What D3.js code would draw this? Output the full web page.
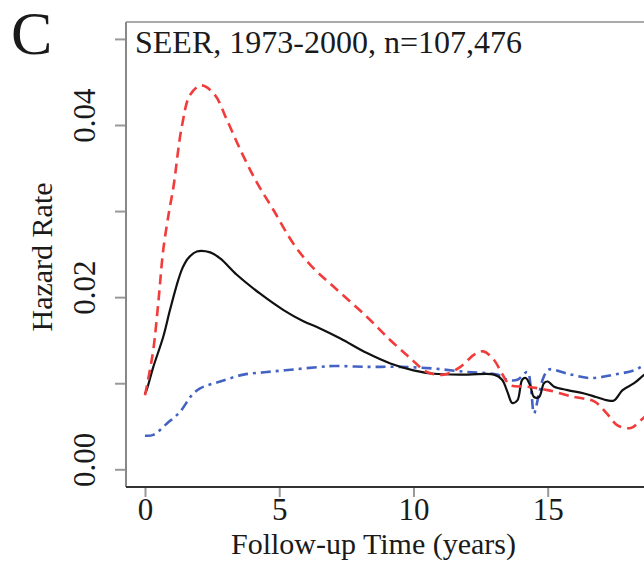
<!DOCTYPE html>
<html><head><meta charset="utf-8">
<script src="https://cdn.jsdelivr.net/npm/d3@7/dist/d3.min.js"></script>
<style>
html,body{margin:0;padding:0;background:#fff;}
svg text{font-family:"Liberation Serif","Times New Roman",serif;fill:#1a1a1a;}
</style></head>
<body>
<svg id="chart" width="644" height="567"></svg>
<script>
const panelLabel = "C";
const title = "SEER, 1973-2000, n=107,476";
const xTitle = "Follow-up Time (years)";
const yTitle = "Hazard Rate";
const xTicks = [0, 5, 10, 15];
const yTicks = [0, 0.01, 0.02, 0.03, 0.04, 0.05];
const yLabelTicks = [0, 0.02, 0.04];

const tRed = [0, 0.15, 0.31, 0.5, 0.68, 0.9, 1.06, 1.37, 1.68, 2.1, 2.6, 3.05, 3.6, 4.17, 4.79, 5.53, 6.2, 7.03, 8.27, 9.14, 9.89, 10.5, 11.13, 11.75, 12.25, 12.6, 13.0, 13.3, 13.6, 14.24, 15.0, 15.98, 16.73, 17.2, 17.6, 18.1, 18.47, 18.8];
const vRed = [0.0086, 0.011, 0.0139, 0.0195, 0.0255, 0.030, 0.0328, 0.0398, 0.0435, 0.0446, 0.0435, 0.0406, 0.0368, 0.0333, 0.0301, 0.0262, 0.0236, 0.0212, 0.0177, 0.0150, 0.0129, 0.0113, 0.0110, 0.0119, 0.0133, 0.0137, 0.0127, 0.0111, 0.0098, 0.0096, 0.0092, 0.0084, 0.0079, 0.0065, 0.0051, 0.0048, 0.0057, 0.0066];

const tBlack = [0, 0.06, 0.31, 0.68, 0.93, 1.24, 1.4, 1.6, 1.93, 2.43, 2.8, 3.42, 4.29, 5.16, 5.9, 6.5, 7.28, 8.27, 9.14, 10.0, 10.76, 12.0, 13.0, 13.3, 13.5, 13.68, 13.87, 14.05, 14.18, 14.34, 14.49, 14.68, 14.86, 15.0, 15.24, 15.74, 16.36, 16.8, 17.23, 17.47, 17.79, 18.22, 18.6, 18.8];
const vBlack = [0.0088, 0.0092, 0.0119, 0.0154, 0.0185, 0.0220, 0.0234, 0.0245, 0.0253, 0.0252, 0.0245, 0.0226, 0.0204, 0.0185, 0.0172, 0.0164, 0.0152, 0.0135, 0.0123, 0.0115, 0.0111, 0.0110, 0.0110, 0.0104, 0.0090, 0.0077, 0.0080, 0.0104, 0.0106, 0.0098, 0.0084, 0.0084, 0.0100, 0.0102, 0.0096, 0.0092, 0.0088, 0.0084, 0.0080, 0.0080, 0.0092, 0.0100, 0.0110, 0.0114];

const tBlue = [0, 0.31, 0.81, 1.31, 1.74, 2.05, 2.8, 3.67, 4.54, 5.53, 6.53, 7.03, 8.27, 9.5, 10.76, 12.0, 13.12, 13.5, 13.87, 14.24, 14.37, 14.49, 14.68, 14.86, 15.05, 15.74, 16.6, 17.47, 18.22, 18.6, 18.8];
const vBlue = [0.0039, 0.0040, 0.0053, 0.0067, 0.0086, 0.0094, 0.0102, 0.0110, 0.0113, 0.0116, 0.0119, 0.0120, 0.0119, 0.0119, 0.0117, 0.0113, 0.0110, 0.0104, 0.0104, 0.0113, 0.0096, 0.0065, 0.0088, 0.0108, 0.0116, 0.0111, 0.0106, 0.0110, 0.0115, 0.0121, 0.0123];

const svg = d3.select("#chart");
const x = d3.scaleLinear().domain([0, 15]).range([145, 547.7]);
const y = d3.scaleLinear().domain([0, 0.04]).range([469.3, 125]);
const pLeft = 126, pTop = 22, pBottom = 487, pRight = 700;

// clip
svg.append("defs").append("clipPath").attr("id","clip")
  .append("rect").attr("x", pLeft).attr("y", pTop).attr("width", pRight-pLeft).attr("height", pBottom-pTop);

// axes
const xAxis = d3.axisBottom(x).tickValues(xTicks).tickSize(10).tickPadding(4).tickFormat(d3.format("d"));
const gx = svg.append("g").attr("transform", `translate(0,${pBottom})`).call(xAxis);
gx.select(".domain").remove();
gx.selectAll(".tick line").attr("stroke", "#999").attr("stroke-width", 2);
gx.selectAll(".tick text").attr("font-size", 31).attr("dy", null).attr("y", 33).attr("fill", "#1a1a1a");

const yAxis = d3.axisLeft(y).tickValues(yTicks).tickSize(11)
  .tickFormat(d => yLabelTicks.some(v => Math.abs(v - d) < 1e-9) ? d3.format(".2f")(d) : "");
const gy = svg.append("g").attr("transform", `translate(${pLeft},0)`).call(yAxis);
gy.select(".domain").remove();
gy.selectAll(".tick line").attr("stroke", "#999").attr("stroke-width", 2);
gy.selectAll(".tick text").attr("font-size", 31).attr("x", null).attr("dy", null)
  .attr("text-anchor", "middle").attr("transform", "translate(-31,-10) rotate(-90)").attr("fill", "#1a1a1a");

// frame
svg.append("line").attr("x1", pLeft).attr("x2", pRight).attr("y1", pTop).attr("y2", pTop).attr("stroke", "#aaa").attr("stroke-width", 2);
svg.append("line").attr("x1", pLeft).attr("x2", pLeft).attr("y1", pTop).attr("y2", pBottom).attr("stroke", "#888").attr("stroke-width", 2);
svg.append("line").attr("x1", pLeft).attr("x2", pRight).attr("y1", pBottom).attr("y2", pBottom).attr("stroke", "#333").attr("stroke-width", 2);

// lines
const line = d3.line().x(d => x(d[0])).y(d => y(d[1])).curve(d3.curveCatmullRom.alpha(0.5));
const plot = svg.append("g").attr("clip-path", "url(#clip)");
plot.append("path").datum(tBlue.map((t,i)=>[t, vBlue[i]]))
  .attr("d", line).attr("fill","none").attr("stroke","#4462c4").attr("stroke-width",2.6)
  .attr("stroke-dasharray","10,5,3,5");
plot.append("path").datum(tBlack.map((t,i)=>[t, vBlack[i]]))
  .attr("d", line).attr("fill","none").attr("stroke","#111").attr("stroke-width",2.2);
plot.append("path").datum(tRed.map((t,i)=>[t, vRed[i]]))
  .attr("d", line).attr("fill","none").attr("stroke","#f23b3b").attr("stroke-width",2.6)
  .attr("stroke-dasharray","10,6");

// texts
svg.append("text").attr("x", 11).attr("y", 54).attr("font-size", 62).text(panelLabel);
svg.append("text").attr("x", 135).attr("y", 53).attr("font-size", 32).text(title);
svg.append("text").attr("x", 373.5).attr("y", 554).attr("text-anchor","middle").attr("font-size", 30).text(xTitle);
svg.append("text").attr("transform", "translate(52,257) rotate(-90)").attr("text-anchor","middle").attr("font-size", 30).text(yTitle);
</script>
</body></html>
